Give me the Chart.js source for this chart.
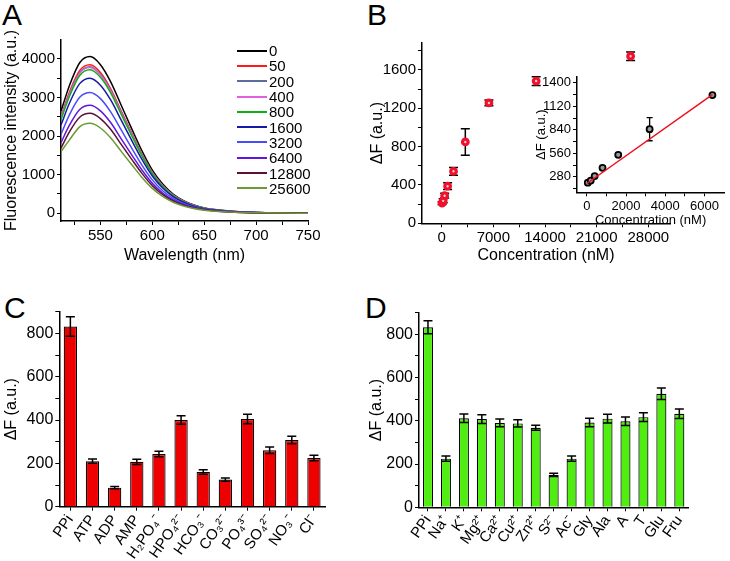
<!DOCTYPE html>
<html>
<head>
<meta charset="utf-8">
<script src="https://cdn.jsdelivr.net/npm/chart.js@4.4.0/dist/chart.umd.min.js"></script>
<style>
  body { margin: 0; background: #fff; width: 730px; height: 561px; position: relative; overflow: hidden;
         font-family: "Liberation Sans", Arial, sans-serif; color: #000; }
  canvas { position: absolute; }
  .letter { position: absolute; font-size: 30px; line-height: 30px; }
  #legendA { position: absolute; left: 237px; top: 43px; }
  #legendA .row { height: 15.3px; display: flex; align-items: center; font-size: 15px; line-height: 15px; }
  #legendA .sw { width: 30px; height: 2px; margin-right: 2px; }
</style>
</head>
<body>
<div class="letter" style="left:2px;top:0px">A</div>
<div class="letter" style="left:367px;top:0px">B</div>
<div class="letter" style="left:4px;top:293px">C</div>
<div class="letter" style="left:365px;top:293px">D</div>

<canvas id="chartA" width="365" height="270" style="left:0;top:0"></canvas>
<canvas id="chartB" width="365" height="270" style="left:365px;top:0"></canvas>
<canvas id="chartInset" width="200" height="164" style="left:530px;top:65px"></canvas>
<canvas id="chartC" width="365" height="291" style="left:0;top:270px"></canvas>
<canvas id="chartD" width="365" height="291" style="left:365px;top:270px"></canvas>
<div id="legendA"></div>

<script>
// --- A: espectros de fluorescencia ---
const wavelengths = [512, 520, 530, 540, 550, 560, 570, 580, 590, 600, 610, 620, 630, 640, 650, 660, 680, 700, 725, 750];
const concLabels = ['0', '50', '200', '400', '800', '1600', '3200', '6400', '12800', '25600'];
const concColors = ['#000000', '#ff1a1a', '#5c6c9c', '#e060e0', '#10b010', '#1818a8', '#4a4aff', '#6414dc', '#5a1038', '#6b9a2e'];
const spec0     = [2650, 3300, 3900, 4060, 3850, 3400, 2800, 2200, 1620, 1120, 760, 500, 330, 215, 140, 95, 45, 22, 10, 5];
const spec50    = [2510, 3130, 3700, 3850, 3650, 3220, 2650, 2085, 1535, 1060, 720, 475, 315, 205, 135, 90, 43, 21, 10, 5];
const spec200   = [2480, 3090, 3650, 3800, 3600, 3180, 2620, 2060, 1515, 1050, 710, 470, 310, 200, 130, 90, 42, 21, 9, 5];
const spec400   = [2470, 3070, 3630, 3780, 3585, 3165, 2605, 2050, 1510, 1045, 705, 465, 305, 200, 130, 88, 42, 20, 9, 5];
const spec800   = [2430, 3020, 3570, 3720, 3525, 3115, 2565, 2015, 1485, 1025, 695, 460, 300, 195, 128, 87, 41, 20, 9, 5];
const spec1600  = [2285, 2845, 3360, 3500, 3320, 2930, 2415, 1895, 1395, 965, 655, 430, 285, 185, 120, 82, 39, 19, 9, 4];
const spec3200  = [2045, 2545, 3005, 3130, 2970, 2620, 2160, 1695, 1250, 865, 585, 385, 255, 165, 108, 73, 35, 17, 8, 4];
const spec6400  = [1830, 2275, 2690, 2800, 2655, 2345, 1930, 1520, 1120, 775, 525, 345, 228, 148, 97, 66, 31, 15, 7, 3];
const spec12800 = [1690, 2105, 2490, 2590, 2455, 2170, 1785, 1405, 1035, 715, 485, 320, 210, 137, 89, 61, 29, 14, 6, 3];
const spec25600 = [1600, 1895, 2240, 2330, 2210, 1950, 1605, 1265, 930, 645, 435, 287, 190, 123, 80, 55, 26, 13, 6, 3];
const spectra = [spec0, spec50, spec200, spec400, spec800, spec1600, spec3200, spec6400, spec12800, spec25600];
const ticksAX = [525, 550, 575, 600, 625, 650, 675, 700, 725, 750];
const ticksAY = [0, 500, 1000, 1500, 2000, 2500, 3000, 3500, 4000];

// --- B: ΔF frente a concentración ---
const concB = [50, 200, 400, 800, 1600, 3200, 6400, 12800, 25600];
const deltaB = [210, 235, 288, 387, 542, 848, 1255, 1483, 1742];
const errB = [15, 20, 25, 35, 40, 138, 30, 45, 45];
const ticksBX = [0, 3500, 7000, 10500, 14000, 17500, 21000, 24500, 28000];
const ticksBY = [0, 200, 400, 600, 800, 1000, 1200, 1400, 1600, 1800];
// inset (rango lineal)
const concInset = [50, 200, 400, 800, 1600, 3200, 6400];
const deltaInset = [210, 235, 288, 387, 542, 848, 1255];
const errInset = [10, 10, 12, 22, 18, 138, 10];
const fitX = [0, 6400];
const fitY = [200, 1260];
const ticksInX = [0, 1000, 2000, 3000, 4000, 5000, 6000];
const ticksInY = [140, 280, 420, 560, 700, 840, 980, 1120, 1260, 1400];

// --- C: aniones ---
const anions = ['PPi', 'ATP', 'ADP', 'AMP', 'H₂PO₄⁻', 'HPO₄²⁻', 'HCO₃⁻', 'CO₃²⁻', 'PO₄³⁻', 'SO₄²⁻', 'NO₃⁻', 'Cl⁻'];
const anionVals = [832, 210, 88, 207, 243, 400, 160, 125, 405, 260, 308, 225];
const anionErr = [45, 10, 5, 12, 13, 20, 10, 8, 22, 15, 17, 13];

// --- D: otras especies ---
const species = ['PPi', 'Na⁺', 'K⁺', 'Mg²⁺', 'Ca²⁺', 'Cu²⁺', 'Zn²⁺', 'S²⁻', 'Ac⁻', 'Gly', 'Ala', 'A', 'T', 'Glu', 'Fru'];
const speciesVals = [833, 225, 412, 408, 390, 388, 368, 150, 225, 392, 410, 398, 417, 525, 433];
const speciesErr = [30, 12, 20, 20, 18, 17, 12, 8, 12, 20, 20, 20, 20, 27, 22];
const ticksBarY = [0, 100, 200, 300, 400, 500, 600, 700, 800, 900];

const FONT = '"Liberation Sans", Arial, sans-serif';
Chart.defaults.font.family = FONT;
Chart.defaults.color = '#000';

// barras de error
const errorBars = {
    id: 'errorBars',
    beforeDatasetsDraw(chart, args, opts) { if (!opts.front) dibujarErrores(chart, opts); },
    afterDatasetsDraw(chart, args, opts) { if (opts.front) dibujarErrores(chart, opts); }
};
function dibujarErrores(chart, opts) {
    const ctx = chart.ctx;
    chart.data.datasets.forEach((ds, i) => {
        if (!ds.errors) return;
        const meta = chart.getDatasetMeta(i);
        const yScale = chart.scales[meta.yAxisID];
        ctx.save();
        ctx.strokeStyle = '#000';
        ctx.lineWidth = opts.width || 1.5;
        meta.data.forEach((el, j) => {
            const d = ds.data[j];
            const v = typeof d === 'object' ? d.y : d;
            const e = ds.errors[j];
            const yt = yScale.getPixelForValue(v + e);
            const yb = yScale.getPixelForValue(v - e);
            const c = opts.cap || 4;
            ctx.beginPath();
            ctx.moveTo(el.x, yt); ctx.lineTo(el.x, yb);
            ctx.moveTo(el.x - c, yt); ctx.lineTo(el.x + c, yt);
            ctx.moveTo(el.x - c, yb); ctx.lineTo(el.x + c, yb);
            ctx.stroke();
        });
        ctx.restore();
    });
}

function ejeLineal(min, max, marcas, cadaEtiqueta, tam, ancho, titulo, tamTitulo, padTitulo, horizontal) {
    return {
        type: 'linear', min: min, max: max, bounds: 'data',
        border: { display: true, color: '#000', width: 1.5 },
        grid: { display: true, drawOnChartArea: false, drawTicks: true, tickLength: 4, color: '#000', tickColor: '#000' },
        ticks: {
            autoSkip: false, maxRotation: 0, padding: 2,
            font: { size: tam },
            callback: v => (Math.abs(v / cadaEtiqueta - Math.round(v / cadaEtiqueta)) < 1e-6 ? String(v) : '')
        },
        afterBuildTicks: s => { s.ticks = marcas.map(v => ({ value: v })); },
        title: { display: true, text: titulo, font: { size: tamTitulo }, padding: padTitulo },
        afterFit: s => { if (horizontal) s.height = ancho; else s.width = ancho; }
    };
}

// A
new Chart(document.getElementById('chartA'), {
    type: 'line',
    data: {
        datasets: spectra.map((s, i) => ({
            label: concLabels[i],
            data: s.map((v, j) => ({ x: wavelengths[j], y: v })),
            borderColor: concColors[i],
            borderWidth: 1.5,
            pointRadius: 0,
            cubicInterpolationMode: 'monotone',
            fill: false
        })).reverse()
    },
    options: {
        responsive: false, animation: false,
        layout: { padding: { left: 0, right: 57, top: 40, bottom: 0 } },
        plugins: { legend: { display: false }, tooltip: { enabled: false } },
        scales: {
            x: ejeLineal(512, 750, ticksAX, 50, 15, 49, 'Wavelength (nm)', 16, { top: 0, bottom: 5 }, true),
            y: ejeLineal(-200, 4490, ticksAY, 1000, 15, 61, 'Fluorescence intensity (a.u.)', 16, { top: 2, bottom: 0 }, false)
        }
    }
});

const legendA = document.getElementById('legendA');
concLabels.forEach((l, i) => {
    const row = document.createElement('div');
    row.className = 'row';
    row.innerHTML = `<span class="sw" style="background:${concColors[i]}"></span><span>${l}</span>`;
    legendA.appendChild(row);
});

// B
new Chart(document.getElementById('chartB'), {
    type: 'scatter',
    data: {
        datasets: [{
            data: concB.map((c, i) => ({ x: c, y: deltaB[i] })),
            errors: errB,
            pointRadius: 2.8,
            borderWidth: 3.2,
            borderColor: '#f0102a',
            backgroundColor: '#f8c8e0'
        }]
    },
    options: {
        responsive: false, animation: false,
        layout: { padding: { left: 0, right: 60, top: 43, bottom: 0 } },
        plugins: { legend: { display: false }, tooltip: { enabled: false }, errorBars: { front: false, cap: 4.5 } },
        scales: {
            x: ejeLineal(-2670, 30940, ticksBX, 7000, 15, 46.7, 'Concentration (nM)', 16, { top: 0, bottom: 5 }, true),
            y: ejeLineal(0, 1880, ticksBY, 400, 15, 57, 'ΔF (a.u.)', 16, { top: 3, bottom: 0 }, false)
        }
    },
    plugins: [errorBars]
});

// inset
new Chart(document.getElementById('chartInset'), {
    type: 'scatter',
    data: {
        datasets: [{
            type: 'line',
            data: fitX.map((x, i) => ({ x: x, y: fitY[i] })),
            borderColor: '#f01020',
            borderWidth: 1.5,
            pointRadius: 0,
            fill: false
        }, {
            data: concInset.map((c, i) => ({ x: c, y: deltaInset[i] })),
            errors: errInset,
            pointRadius: 3,
            borderWidth: 1.8,
            borderColor: '#000',
            backgroundColor: '#9a9a9a'
        }]
    },
    options: {
        responsive: false, animation: false,
        layout: { padding: { left: 0, right: 3, top: 12, bottom: 0 } },
        plugins: { legend: { display: false }, tooltip: { enabled: false }, errorBars: { front: false, cap: 3, width: 1.3 } },
        scales: {
            x: ejeLineal(-500, 7000, ticksInX, 2000, 13, 36.7, 'Concentration (nM)', 13, { top: 0, bottom: 1 }, true),
            y: ejeLineal(95, 1470, ticksInY, 280, 13, 47, 'ΔF (a.u.)', 13, { top: 4, bottom: 0 }, false)
        }
    },
    plugins: [errorBars]
});

function barras(id, etiquetas, valores, errores, color, pad, anchoY, altoX, fraccion) {
    const y = ejeLineal(0, 900, ticksBarY, 200, 16, anchoY, 'ΔF (a.u.)', 16, { top: 2, bottom: 0 }, false);
    return new Chart(document.getElementById(id), {
        type: 'bar',
        data: {
            labels: etiquetas,
            datasets: [{
                data: valores,
                errors: errores,
                backgroundColor: color,
                borderColor: '#000',
                borderWidth: 1.2,
                barPercentage: fraccion,
                categoryPercentage: 1
            }]
        },
        options: {
            responsive: false, animation: false,
            layout: { padding: pad },
            plugins: { legend: { display: false }, tooltip: { enabled: false }, errorBars: { front: true, cap: 4.5 } },
            scales: {
                x: {
                    border: { display: true, color: '#000', width: 1.5 },
                    grid: { display: true, offset: false, drawOnChartArea: false, tickLength: 4, color: '#000' },
                    ticks: { autoSkip: false, minRotation: 55, maxRotation: 55, padding: 1, font: { size: 15 } },
                    afterFit: s => { s.height = altoX; }
                },
                y: y
            }
        },
        plugins: [errorBars]
    });
}

barras('chartC', anions, anionVals, anionErr, '#ee0000', { left: 0, right: 40, top: 41.7, bottom: 0 }, 59.3, 54.3, 0.6);
barras('chartD', species, speciesVals, speciesErr, '#50ee10', { left: 0, right: 41.7, top: 42.7, bottom: 0 }, 54, 53.7, 0.56);
</script>
</body>
</html>
